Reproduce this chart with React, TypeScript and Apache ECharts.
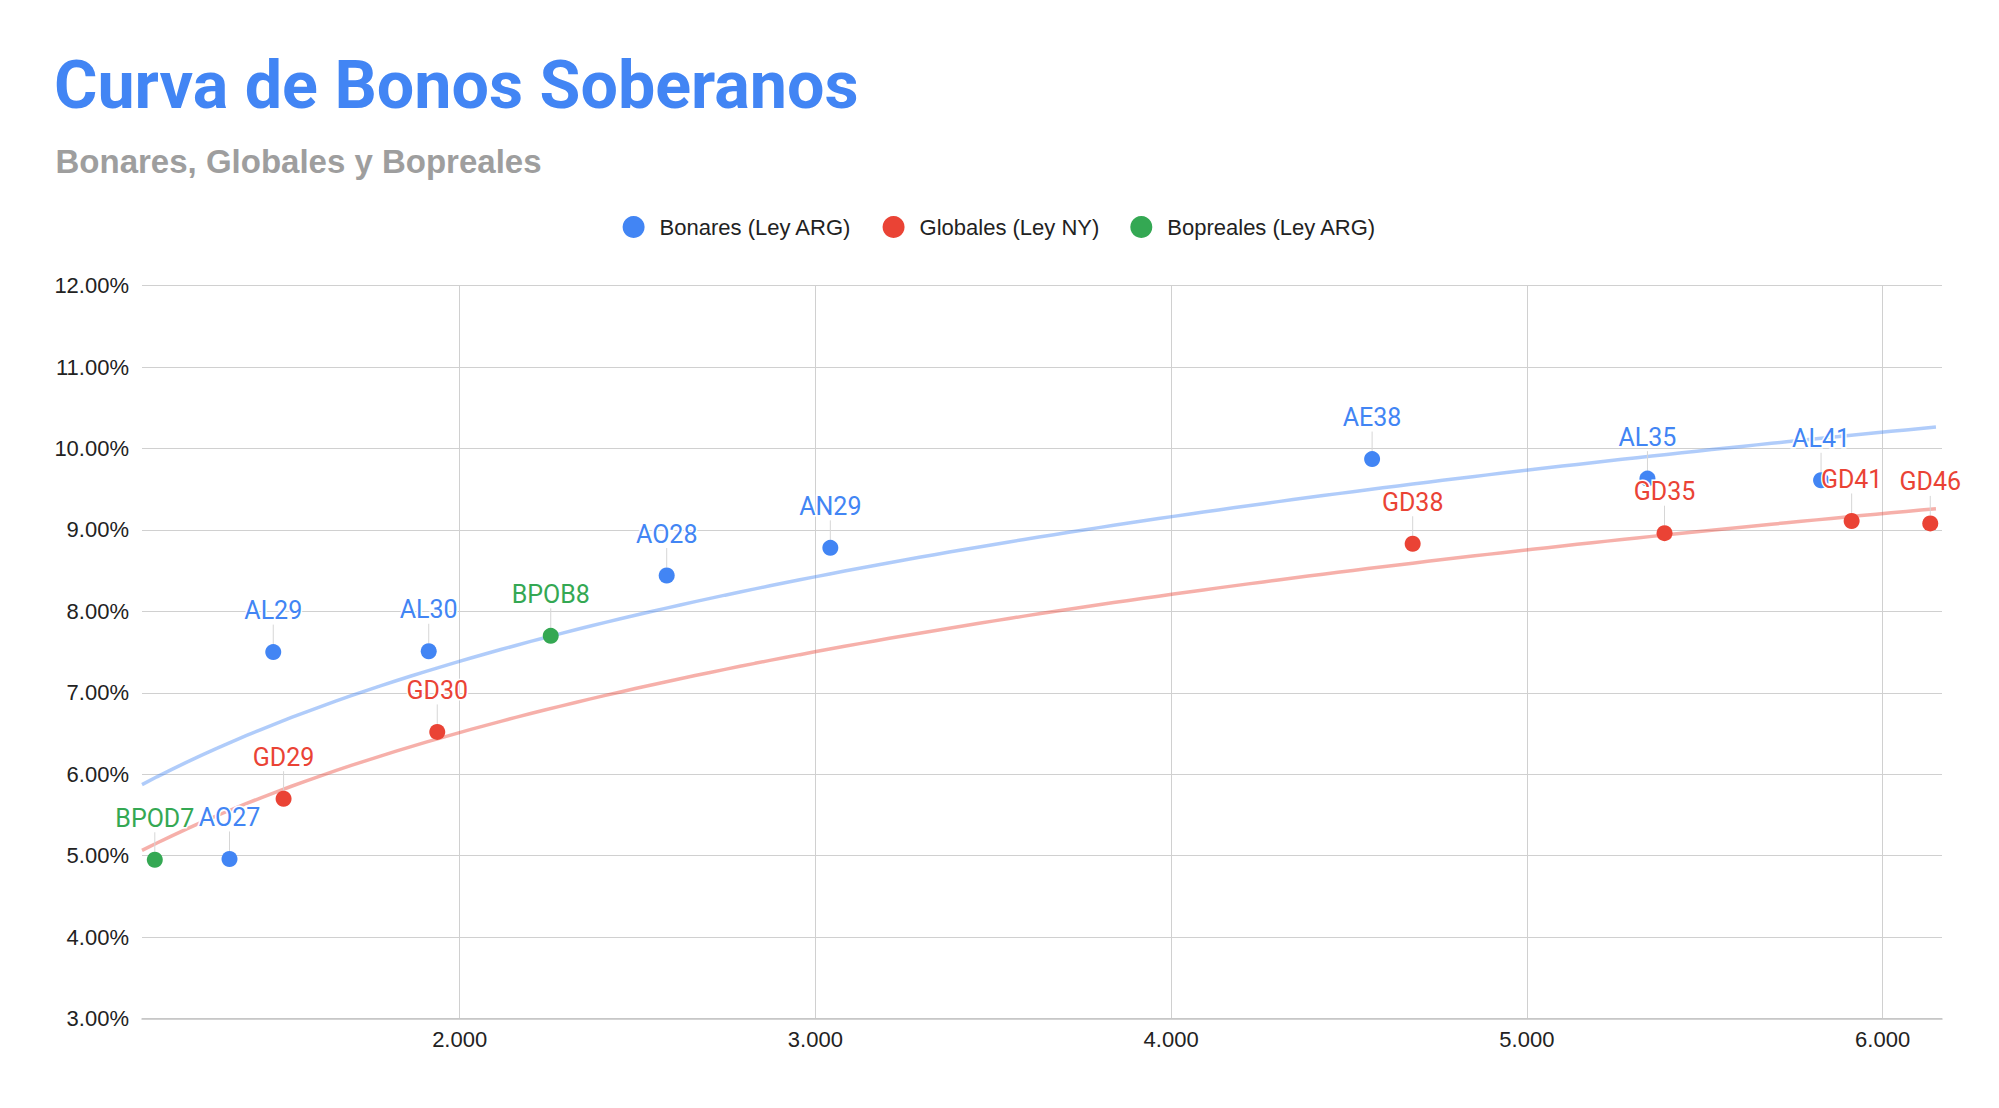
import React, { useEffect, useRef } from 'react';
import * as echarts from 'echarts';

// ---- Data ----
const bonaresNames = ['AO27', 'AL29', 'AL30', 'AO28', 'AN29', 'AE38', 'AL35', 'AL41'];
const bonaresX = [1353, 1476, 1913, 2582, 3042, 4565, 5339, 5827];
const bonaresY = [4.96, 7.5, 7.51, 8.44, 8.78, 9.87, 9.63, 9.61];

const globalesNames = ['GD29', 'GD30', 'GD38', 'GD35', 'GD41', 'GD46'];
const globalesX = [1505, 1937, 4679, 5387, 5913, 6134];
const globalesY = [5.7, 6.52, 8.83, 8.96, 9.11, 9.08];

const boprealesNames = ['BPOD7', 'BPOB8'];
const boprealesX = [1143, 2256];
const boprealesY = [4.95, 7.7];

const seriesNames = ['Bonares (Ley ARG)', 'Globales (Ley NY)', 'Bopreales (Ley ARG)'];
const xTicks = [2000, 3000, 4000, 5000, 6000];
const xMin = 1107;
const xMax = 6167;
const trendEnd = 6150;
const yMin = 3;
const yMax = 12;

const BLUE = '#4285F4';
const RED = '#EA4335';
const GREEN = '#34A853';
const AXIS_FONT = '"Liberation Sans", Arial, sans-serif';

// logarithmic least-squares trendline (as the spreadsheet does)
function logFit(xs: number[], ys: number[]) {
  const lx = xs.map((x) => Math.log(x));
  const n = xs.length;
  const mx = lx.reduce((a, b) => a + b, 0) / n;
  const my = ys.reduce((a, b) => a + b, 0) / n;
  let sxy = 0;
  let sxx = 0;
  for (let i = 0; i < n; i++) {
    sxy += (lx[i] - mx) * (ys[i] - my);
    sxx += (lx[i] - mx) * (lx[i] - mx);
  }
  const b = sxy / sxx;
  const a = my - b * mx;
  return (x: number) => a + b * Math.log(x);
}

function trendPoints(xs: number[], ys: number[]) {
  const f = logFit(xs, ys);
  const pts: number[][] = [];
  const steps = 120;
  for (let i = 0; i <= steps; i++) {
    const x = xMin + ((trendEnd - xMin) * i) / steps;
    pts.push([x, f(x)]);
  }
  return pts;
}

function scatterSeries(name: string, names: string[], xs: number[], ys: number[], color: string) {
  return {
    type: 'scatter',
    name,
    z: 3,
    symbol: 'circle',
    symbolSize: 16,
    data: xs.map((x, i) => ({ value: [x, ys[i]], name: names[i] })),
    itemStyle: { color, opacity: 1 },
    label: {
      show: true,
      position: 'top',
      distance: 6,
      formatter: '{b}',
      fontSize: 25,
      fontFamily: 'Roboto, sans-serif',
      color,
      textBorderColor: '#ffffff',
      textBorderWidth: 3,
    },
    labelLayout: { dy: -15 },
    labelLine: { show: true, lineStyle: { color: '#d6d6d6', width: 1 } },
    emphasis: { disabled: true },
  };
}

export default function App() {
  const ref = useRef<HTMLDivElement>(null);

  useEffect(() => {
    if (!ref.current) return;
    const chart = echarts.init(ref.current, null, { renderer: 'svg' });
    const option = {
      animation: false,
      backgroundColor: '#ffffff',
      graphic: [
        {
          type: 'text',
          x: 54,
          y: 85,
          style: {
            text: 'Curva de Bonos Soberanos',
            fontSize: 66.4,
            fontWeight: 'bold',
            fontFamily: 'Roboto, sans-serif',
            fill: BLUE,
            verticalAlign: 'middle',
          },
        },
        {
          type: 'text',
          x: 55.5,
          y: 161,
          style: {
            text: 'Bonares, Globales y Bopreales',
            fontSize: 33,
            fontWeight: 'bold',
            fontFamily: AXIS_FONT,
            fill: '#9e9e9e',
            verticalAlign: 'middle',
          },
        },
      ],
      legend: {
        data: seriesNames,
        left: 'center',
        top: 211,
        icon: 'circle',
        itemWidth: 42,
        itemHeight: 22,
        itemGap: 31,
        textStyle: { fontSize: 22, color: '#222222', fontFamily: AXIS_FONT },
      },
      grid: { left: 142, right: 57, top: 285.6, bottom: 89.4 },
      xAxis: {
        type: 'value',
        min: xMin,
        max: xMax,
        axisLine: { show: true, onZero: false, lineStyle: { color: '#c4c4c4', width: 1.5 } },
        axisTick: { show: false, customValues: xTicks },
        axisLabel: {
          customValues: xTicks,
          formatter: (v: number) => (v / 1000).toFixed(3),
          fontSize: 22,
          color: '#222222',
          fontFamily: AXIS_FONT,
          margin: 10,
        },
        splitLine: { show: true, lineStyle: { color: '#d0d0d0', width: 1 } },
      },
      yAxis: {
        type: 'value',
        min: yMin,
        max: yMax,
        interval: 1,
        axisLine: { show: false },
        axisTick: { show: false },
        axisLabel: {
          formatter: (v: number) => v.toFixed(2) + '%',
          fontSize: 22,
          color: '#222222',
          fontFamily: AXIS_FONT,
          margin: 13,
        },
        splitLine: { show: true, lineStyle: { color: '#d0d0d0', width: 1 } },
      },
      series: [
        {
          type: 'line',
          name: 'trend-bonares',
          z: 1,
          silent: true,
          showSymbol: false,
          data: trendPoints(bonaresX, bonaresY),
          lineStyle: { color: BLUE, width: 3.5, opacity: 0.42 },
        },
        {
          type: 'line',
          name: 'trend-globales',
          z: 1,
          silent: true,
          showSymbol: false,
          data: trendPoints(globalesX, globalesY),
          lineStyle: { color: RED, width: 3.5, opacity: 0.42 },
        },
        scatterSeries(seriesNames[0], bonaresNames, bonaresX, bonaresY, BLUE),
        scatterSeries(seriesNames[1], globalesNames, globalesX, globalesY, RED),
        scatterSeries(seriesNames[2], boprealesNames, boprealesX, boprealesY, GREEN),
      ],
    };
    chart.setOption(option as any);
    return () => chart.dispose();
  }, []);

  return (
    <div
      ref={ref}
      style={{ position: 'absolute', left: 0, top: 0, width: 1999, height: 1108 }}
    />
  );
}
